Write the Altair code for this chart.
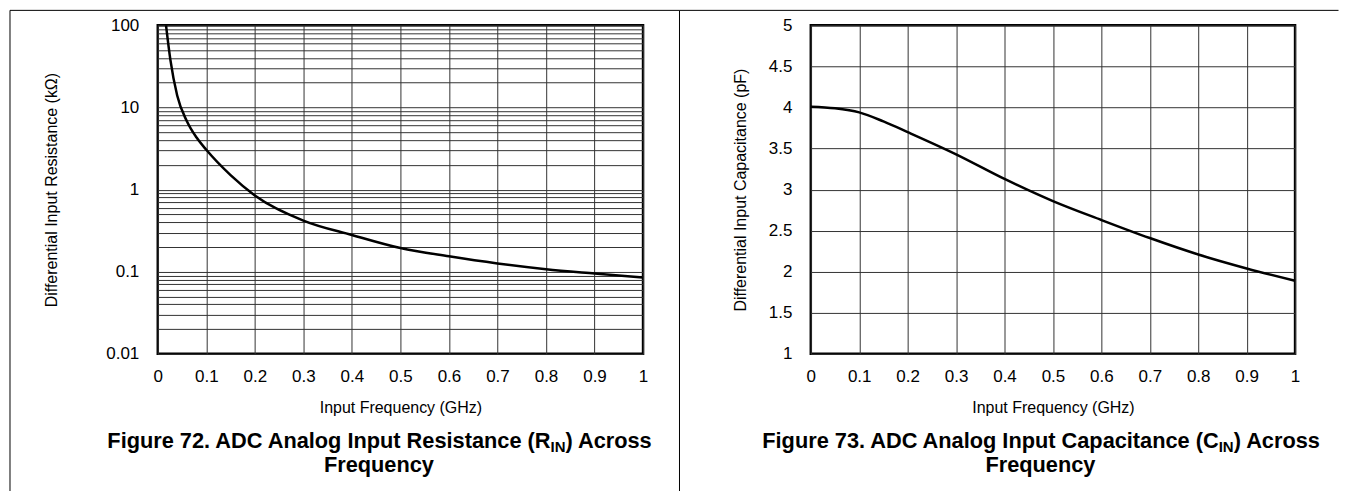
import json
import altair as alt
import pandas as pd

FONT = "Liberation Sans"

# ---------------- data ----------------
# Figure 72: differential input resistance (kOhm) vs input frequency (GHz)
freq_r = [0.017, 0.026, 0.04, 0.06, 0.08, 0.1, 0.15, 0.2, 0.3, 0.4, 0.5, 0.6, 0.7, 0.8, 0.9, 1.0]
res_k = [100, 38, 14, 6.8, 4.3, 3.05, 1.5, 0.85, 0.42, 0.28, 0.194, 0.154, 0.126, 0.107, 0.095, 0.085]

# Figure 73: differential input capacitance (pF) vs input frequency (GHz)
freq_c = [0, 0.05, 0.1, 0.15, 0.2, 0.3, 0.4, 0.5, 0.6, 0.7, 0.8, 0.9, 1.0]
cap_pf = [4.01, 3.99, 3.94, 3.83, 3.70, 3.43, 3.13, 2.86, 2.63, 2.41, 2.21, 2.04, 1.89]

# ticks / labels
x_ticks = [0, 0.1, 0.2, 0.3, 0.4, 0.5, 0.6, 0.7, 0.8, 0.9, 1]
r_ticks = [0.01, 0.02, 0.03, 0.04, 0.05, 0.06, 0.07, 0.08, 0.09,
           0.1, 0.2, 0.3, 0.4, 0.5, 0.6, 0.7, 0.8, 0.9,
           1, 2, 3, 4, 5, 6, 7, 8, 9,
           10, 20, 30, 40, 50, 60, 70, 80, 90, 100]
r_labels = ["0.01", "0.1", "1", "10", "100"]
c_ticks = [1, 1.5, 2, 2.5, 3, 3.5, 4, 4.5, 5]

x_title = "Input Frequency (GHz)"
r_title = "Differential Input Resistance (kΩ)"
c_title = "Differential Input Capacitance (pF)"
cap72 = ["Figure 72. ADC Analog Input Resistance (R", "IN", ") Across", "Frequency"]
cap73 = ["Figure 73. ADC Analog Input Capacitance (C", "IN", ") Across", "Frequency"]

# ---------------- layout ----------------
W1, W2, H = 486, 485, 329
SPACING = 168
LABEL_FS, TITLE_FS = 17, 16
CAP_FS, SUB_FS = 21.8, 15
LINE1_Y, SUB_Y, LINE2_Y = 423.5, 427.5, 447.5
BOTTOM = 467.5

one = pd.DataFrame({"k": [0]})


def x_axis():
    return alt.Axis(values=x_ticks, format="~g", title=x_title, grid=True, ticks=False,
                    domain=False, labelPadding=15, titlePadding=15, labelFontSize=LABEL_FS,
                    titleFontSize=TITLE_FS, labelFlush=False, labelOverlap=False,
                    labelBound=False)


def caption(parts, x_sub, x_center):
    base = alt.Chart(one)
    t1 = base.mark_text(align="right", baseline="alphabetic", font=FONT, fontSize=CAP_FS,
                        fontWeight="bold", color="black").encode(
        x=alt.value(x_sub), y=alt.value(LINE1_Y), text=alt.value(parts[0]))
    t2 = base.mark_text(align="left", baseline="alphabetic", font=FONT, fontSize=SUB_FS,
                        fontWeight="bold", color="black").encode(
        x=alt.value(x_sub), y=alt.value(SUB_Y), text=alt.value(parts[1]))
    t3 = base.mark_text(align="left", baseline="alphabetic", font=FONT, fontSize=CAP_FS,
                        fontWeight="bold", color="black").encode(
        x=alt.value(x_sub + SUB_FS), y=alt.value(LINE1_Y), text=alt.value(parts[2]))
    t4 = base.mark_text(align="center", baseline="alphabetic", font=FONT, fontSize=CAP_FS,
                        fontWeight="bold", color="black").encode(
        x=alt.value(x_center), y=alt.value(LINE2_Y), text=alt.value(parts[3]))
    return [t1, t2, t3, t4]


def frame_h(x1, x2):
    return alt.Chart(one).mark_rule(color="black", strokeWidth=1).encode(
        x=alt.value(x1), x2=alt.value(x2), y=alt.value(-15))


def frame_v(x):
    return alt.Chart(one).mark_rule(color="black", strokeWidth=1).encode(
        x=alt.value(x), y=alt.value(-15), y2=alt.value(BOTTOM))


# ---------------- left panel ----------------
df_r = pd.DataFrame({"f": freq_r, "r": res_k})
label_expr = "indexof(" + json.dumps(r_labels) + ", datum.label) >= 0 ? datum.label : ''"
line_r = alt.Chart(df_r).mark_line(color="black", strokeWidth=2.5, interpolate="monotone").encode(
    x=alt.X("f:Q", scale=alt.Scale(domain=[0, 1], nice=False, zero=False), axis=x_axis()),
    y=alt.Y("r:Q", scale=alt.Scale(type="log", domain=[0.01, 100], nice=False),
            axis=alt.Axis(values=r_ticks, format="~g", labelExpr=label_expr, title=r_title,
                          grid=True, ticks=False, domain=False, labelPadding=19,
                          titlePadding=46, labelFontSize=LABEL_FS, titleFontSize=TITLE_FS,
                          labelFlush=False, labelOverlap=False, labelBound=False)),
)
left = alt.layer(
    line_r,
    frame_h(-148, 522.5), frame_v(-148), frame_v(522.5),
    *caption(cap72, 393.3, 221.5),
).properties(width=W1, height=H)

# ---------------- right panel ----------------
df_c = pd.DataFrame({"f": freq_c, "c": cap_pf})
line_c = alt.Chart(df_c).mark_line(color="black", strokeWidth=2.5, interpolate="monotone").encode(
    x=alt.X("f:Q", scale=alt.Scale(domain=[0, 1], nice=False, zero=False), axis=x_axis()),
    y=alt.Y("c:Q", scale=alt.Scale(domain=[1, 5], nice=False, zero=False),
            axis=alt.Axis(values=c_ticks, format="~g", title=c_title, grid=True, ticks=False,
                          domain=False, labelPadding=19, titlePadding=20,
                          labelFontSize=LABEL_FS, titleFontSize=TITLE_FS, labelFlush=False,
                          labelOverlap=False, labelBound=False)),
)
right = alt.layer(
    line_c,
    frame_h(-131.5, 528.5),
    *caption(cap73, 408.5, 230),
).properties(width=W2, height=H)

chart = alt.hconcat(left, right, spacing=SPACING, bounds="flush", padding=0).configure_view(
    stroke="black", strokeWidth=2.5
).configure_axis(
    labelFont=FONT, titleFont=FONT, labelColor="black", titleColor="black",
    gridColor="#333333", gridWidth=1, gridOpacity=1, titleFontWeight="normal"
)

chart.save("out.html", embed_options={"renderer": "svg", "actions": False})
